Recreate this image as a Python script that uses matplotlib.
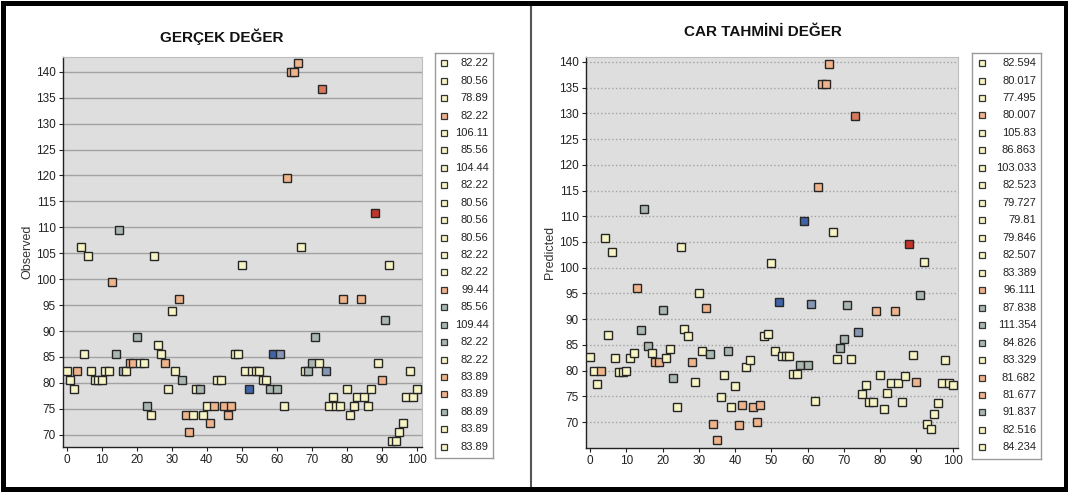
import numpy as np
import matplotlib
matplotlib.use("Agg")
import matplotlib.pyplot as plt
from matplotlib.patches import Rectangle
from matplotlib.lines import Line2D

plt.rcParams['font.family'] = ['Liberation Sans Narrow', 'Liberation Sans', 'DejaVu Sans']

# gozlenen ve tahmin edilen degerler (0..100)
observed = [82.22, 80.56, 78.89, 82.22, 106.11, 85.56, 104.44, 82.22, 80.56, 80.56,
            80.56, 82.22, 82.22, 99.44, 85.56, 109.44, 82.22, 82.22, 83.89, 83.89,
            88.89, 83.89, 83.89, 75.56, 73.89, 104.44, 87.22, 85.56, 83.89, 78.89,
            93.89, 82.22, 96.11, 80.56, 73.89, 70.56, 73.89, 78.89, 78.89, 73.89,
            75.56, 72.22, 75.56, 80.56, 80.56, 75.56, 73.89, 75.56, 85.56, 85.56,
            102.78, 82.22, 78.89, 82.22, 82.22, 82.22, 80.56, 80.56, 78.89, 85.56,
            78.89, 85.56, 75.56, 119.44, 140.0, 140.0, 141.67, 106.11, 82.22, 82.22,
            83.89, 88.89, 83.89, 136.67, 82.22, 75.56, 77.22, 75.56, 75.56, 96.11,
            78.89, 73.89, 75.56, 77.22, 96.11, 77.22, 75.56, 78.89, 112.78, 83.89,
            80.56, 92.22, 102.78, 68.89, 68.89, 70.56, 72.22, 77.22, 82.22, 77.22,
            78.89]

predicted = [82.594, 80.017, 77.495, 80.007, 105.83, 86.863, 103.033, 82.523, 79.727, 79.81,
             79.846, 82.507, 83.389, 96.111, 87.838, 111.354, 84.826, 83.329, 81.682, 81.677,
             91.837, 82.516, 84.234, 78.5, 72.9, 104.1, 88.1, 86.7, 81.6, 77.7,
             95.1, 83.9, 92.2, 83.3, 69.7, 66.5, 74.8, 79.2, 83.8, 72.9,
             77.1, 69.5, 73.4, 80.7, 82.0, 73.0, 70.0, 73.4, 86.7, 87.2,
             101.0, 83.8, 93.3, 82.8, 82.8, 82.8, 79.4, 79.4, 81.0, 109.1,
             81.0, 93.0, 74.1, 115.6, 135.7, 135.7, 139.6, 106.9, 82.3, 84.3,
             86.1, 92.7, 82.3, 129.5, 87.6, 75.5, 77.3, 73.9, 73.9, 91.5,
             79.2, 72.5, 75.7, 77.5, 91.5, 77.5, 73.9, 79.0, 104.6, 83.0,
             77.7, 94.6, 101.1, 69.7, 68.6, 71.5, 73.7, 77.5, 82.1, 77.5,
             77.2]

n_legend = 23

# artik (tahmin - gozlem) siniflari ve renkleri
class_breaks = [-7.7, -5.5, -1.85, 1.85, 5.2, 10.0]
class_colors = ['#c4342b', '#d8795a', '#f0b48c', '#f7f5c6', '#a9b7b0', '#8597b5', '#3f63a6']

obs = np.array(observed)
pred = np.array(predicted)
idx = np.arange(len(obs))
resid = pred - obs
point_colors = [class_colors[k] for k in np.digitize(resid, class_breaks)]

fig = plt.figure(figsize=(10.68, 4.95), dpi=100)
fig.patch.set_facecolor('white')


def panel(ax_rect, leg_rect, values, title, title_pos, ylabel, ylim, labels, grid_style):
    ax = fig.add_axes(ax_rect)
    ax.set_facecolor('#dedede')
    for yv in np.arange(70, 141, 5):
        ax.axhline(yv, color='#a2a2a2', lw=1.0, ls=grid_style, zorder=1)
    for i in idx:
        ax.plot(i, values[i], marker='s', ms=5.8, mfc=point_colors[i], mec='#262626',
                mew=1.0, ls='none', zorder=3)
    ax.set_xlim(-1.1, 101.4)
    ax.set_ylim(*ylim)
    ax.set_xticks(np.arange(0, 101, 10))
    ax.set_yticks(np.arange(70, 141, 5))
    ax.tick_params(direction='out', length=3, width=0.8, labelsize=8.5, pad=2,
                   colors='#222222')
    for s in ['top', 'right']:
        ax.spines[s].set_color('#bdbdbd')
        ax.spines[s].set_linewidth(0.8)
    for s in ['left', 'bottom']:
        ax.spines[s].set_color('#222222')
        ax.spines[s].set_linewidth(1.0)
    ax.set_ylabel(ylabel, fontsize=9, color='#333333', labelpad=2)
    ax.text(title_pos[0], title_pos[1], title, transform=ax.transAxes, ha='center',
            va='center', fontsize=11, fontweight='bold', color='#111111')

    lg = fig.add_axes(leg_rect)
    lg.set_xlim(0, 1)
    lg.set_ylim(405, 0)
    lg.set_xticks([])
    lg.set_yticks([])
    for s in lg.spines.values():
        s.set_color('#9a9a9a')
        s.set_linewidth(1.0)
    for i in range(n_legend):
        yrow = 10 + i * 17.43
        lg.plot(0.15, yrow, marker='s', ms=4.5, mfc=point_colors[i], mec='#333333',
                mew=0.9, ls='none')
        lg.text(0.93, yrow, labels[i], ha='right', va='center', fontsize=8,
                color='#222222')
    return ax


obs_labels = ['{:.2f}'.format(v) for v in observed[:n_legend]]
pred_labels = ['{:g}'.format(v) for v in predicted[:n_legend]]

panel([0.0587, 0.0976, 0.3361, 0.7879], [0.4073, 0.0741, 0.0540, 0.8182],
      obs, 'GERÇEK DEĞER', (0.444, 1.051), 'Observed', (67.7, 142.9),
      obs_labels, '-')
panel([0.5487, 0.0943, 0.3480, 0.7911], [0.9101, 0.0727, 0.0646, 0.8202],
      pred, 'CAR TAHMİNİ DEĞER', (0.476, 1.064), 'Predicted', (64.9, 141.0),
      pred_labels, ':')

# cerceve ve ortadaki ayirici cizgi
fig.patches.append(Rectangle((2.5 / 1068, 6 / 495), 1063 / 1068, 486.5 / 495,
                             transform=fig.transFigure, fill=False, lw=3.6,
                             ec='black', zorder=10))
fig.lines.append(Line2D([531 / 1068, 531 / 1068], [8 / 495, 490 / 495],
                        transform=fig.transFigure, color='#555555', lw=1.5))

fig.savefig('out.png', dpi=100)
